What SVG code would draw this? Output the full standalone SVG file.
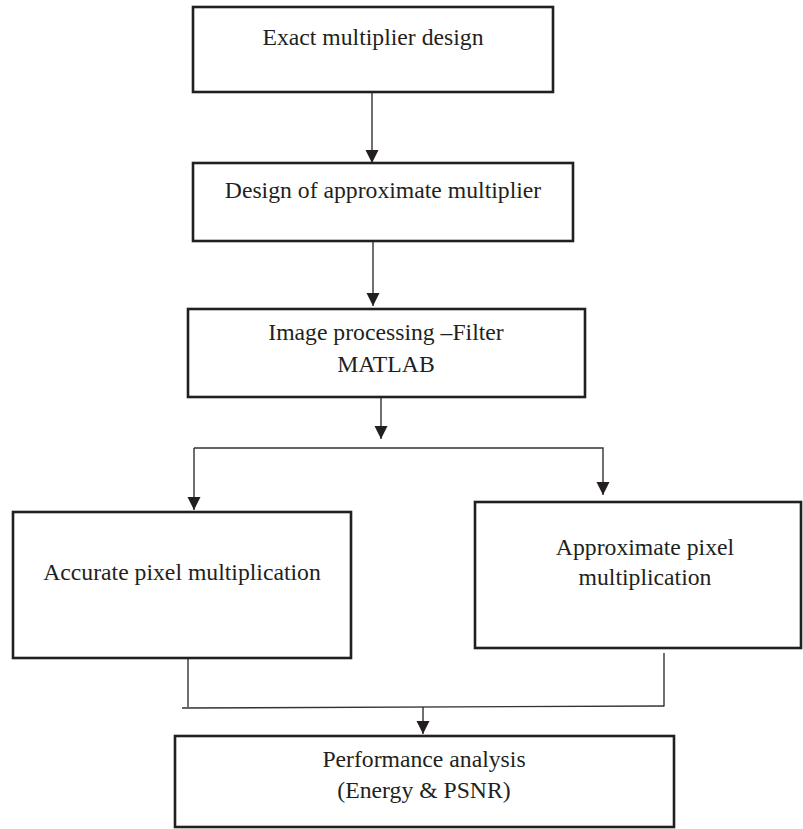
<svg xmlns="http://www.w3.org/2000/svg" width="803" height="829" viewBox="0 0 803 829">
<style>
.box{fill:#fff;stroke:#231f20;stroke-width:2.6}
.lbl{font-family:"Liberation Serif","Times New Roman",serif;font-size:23.7px;fill:#231f20;text-anchor:middle}
.ln{fill:none;stroke:#333;stroke-width:1.4}
</style>
<defs>
<marker id="ah" markerUnits="userSpaceOnUse" markerWidth="14" markerHeight="14" viewBox="0 0 14 14" refX="13" refY="7" orient="auto">
<path d="M0,0.5 L13,7 L0,13.5 Z" fill="#231f20"/>
</marker>
</defs>
<rect width="803" height="829" fill="#fff"/>
<g id="connectors">
<line class="ln" x1="372" y1="92" x2="372" y2="163" marker-end="url(#ah)"/>
<line class="ln" x1="373" y1="242" x2="373" y2="306" marker-end="url(#ah)"/>
<line class="ln" x1="381" y1="397" x2="381" y2="439" marker-end="url(#ah)"/>
<polyline class="ln" points="194,448 603,448 603,495" marker-end="url(#ah)"/>
<line class="ln" x1="194" y1="448" x2="194" y2="510" marker-end="url(#ah)"/>
<line class="ln" x1="188" y1="659" x2="188" y2="707"/>
<line class="ln" x1="664" y1="653" x2="664" y2="706.5"/>
<line class="ln" x1="182" y1="708" x2="664" y2="706"/>
<line class="ln" x1="423" y1="707" x2="423" y2="734" marker-end="url(#ah)"/>
</g>
<g id="n1">
<rect class="box" x="193" y="7" width="360" height="85"/>
<text class="lbl" x="373" y="45">Exact multiplier design</text>
</g>
<g id="n2">
<rect class="box" x="193" y="163" width="380" height="78"/>
<text class="lbl" x="383" y="198">Design of approximate multiplier</text>
</g>
<g id="n3">
<rect class="box" x="188" y="309" width="397" height="88"/>
<text class="lbl" x="386" y="340">Image processing –Filter</text>
<text class="lbl" x="386" y="372">MATLAB</text>
</g>
<g id="n4">
<rect class="box" x="13" y="512" width="338" height="146"/>
<text class="lbl" x="182" y="580">Accurate pixel multiplication</text>
</g>
<g id="n5">
<rect class="box" x="475" y="502" width="326" height="146"/>
<text class="lbl" x="645" y="555">Approximate pixel</text>
<text class="lbl" x="645" y="585">multiplication</text>
</g>
<g id="n6">
<rect class="box" x="175" y="736" width="499" height="91"/>
<text class="lbl" x="424" y="767">Performance analysis</text>
<text class="lbl" x="424" y="798">(Energy &amp; PSNR)</text>
</g>
</svg>
